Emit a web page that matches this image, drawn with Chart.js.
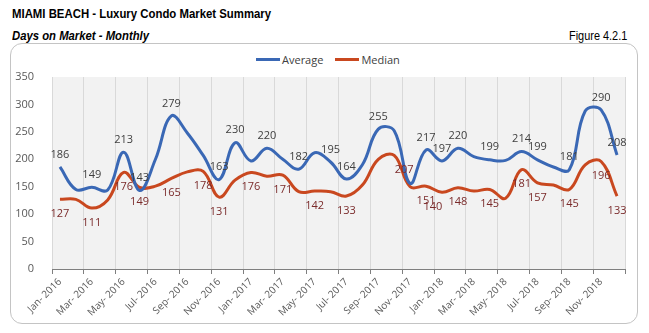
<!DOCTYPE html>
<html>
<head>
<meta charset="utf-8">
<script src="https://cdn.jsdelivr.net/npm/chart.js@4"></script>
<style>
  body { margin: 0; background: #fff; width: 649px; height: 333px; position: relative; overflow: hidden; }
  .head { font-family: "Liberation Sans", Arial, sans-serif; color: #000; position: absolute; white-space: nowrap; transform-origin: left top; }
  #title { left: 12px; top: 6px; font-size: 13px; font-weight: bold; transform: scaleX(0.875); }
  #subtitle { left: 12px; top: 28px; font-size: 13px; font-weight: bold; font-style: italic; transform: scaleX(0.87); }
  #figure { left: 569px; top: 28px; font-size: 13px; transform: scaleX(0.84); }
  #box { position: absolute; left: 10px; top: 43px; width: 626px; height: 279px; border: 1px solid #c4c4c4; border-radius: 12px; }
  #legend { position: absolute; top: 52px; left: 256px; font-family: "Open Sans", sans-serif; font-size: 11px; color: #404040; display: flex; align-items: center; }
  #legend .sw { display: inline-block; width: 24px; height: 3px; margin-right: 2px; }
  #legend .item { display: flex; align-items: center; margin-right: 12px; }
  canvas { position: absolute; left: 0; top: 0; }
</style>
</head>
<body>
<div id="title" class="head">MIAMI BEACH - Luxury Condo Market Summary</div>
<div id="subtitle" class="head">Days on Market - Monthly</div>
<div id="figure" class="head">Figure 4.2.1</div>
<div id="box"></div>
<div id="legend">
  <span class="item"><span class="sw" style="background:#3a68b5"></span>Average</span>
  <span class="item"><span class="sw" style="background:#c9481f"></span>Median</span>
</div>
<canvas id="chart" width="649" height="333"></canvas>
<script>
const months = [
  "Jan- 2016", "Feb- 2016", "Mar- 2016", "Apr- 2016", "May- 2016", "Jun- 2016",
  "Jul- 2016", "Aug- 2016", "Sep- 2016", "Oct- 2016", "Nov- 2016", "Dec- 2016",
  "Jan- 2017", "Feb- 2017", "Mar- 2017", "Apr- 2017", "May- 2017", "Jun- 2017",
  "Jul- 2017", "Aug- 2017", "Sep- 2017", "Oct- 2017", "Nov- 2017", "Dec- 2017",
  "Jan- 2018", "Feb- 2018", "Mar- 2018", "Apr- 2018", "May- 2018", "Jun- 2018",
  "Jul- 2018", "Aug- 2018", "Sep- 2018", "Oct- 2018", "Nov- 2018", "Dec- 2018"
];

const average = [186, 145, 149, 144, 213, 143, 200, 279, 248, 207, 163, 230,
                 197, 220, 200, 182, 212, 195, 164, 190, 255, 252, 156, 217,
                 197, 220, 205, 199, 198, 214, 199, 186, 181, 288, 290, 208];

const median = [127, 127, 111, 126, 176, 149, 151, 165, 177, 178, 131, 162,
                176, 169, 171, 141, 142, 141, 133, 153, 200, 207, 150, 151,
                140, 148, 142, 145, 129, 181, 157, 153, 145, 190, 196, 133];

// which points carry a value label
const averageLabelled = [0, 2, 4, 5, 7, 10, 11, 13, 15, 17, 18, 20, 23, 24, 25, 27, 29, 30, 32, 34, 35];
const medianLabelled = [0, 2, 4, 5, 7, 9, 10, 12, 14, 16, 18, 21, 23, 24, 25, 27, 29, 30, 32, 34, 35];

const yTicks = [0, 50, 100, 150, 200, 250, 300, 350];

// small sideways nudges for a few crowded labels
const medianNudge = { 21: 10, 24: -9 };

const plotBg = {
  id: "plotBg",
  beforeDraw(chart) {
    const { ctx, chartArea: a } = chart;
    ctx.save();
    ctx.fillStyle = "#f2f2f2";
    ctx.fillRect(a.left, a.top, a.right - a.left, a.bottom - a.top);
    ctx.restore();
  }
};

const valueLabels = {
  id: "valueLabels",
  afterDatasetsDraw(chart) {
    const ctx = chart.ctx;
    ctx.save();
    ctx.font = "11px 'Open Sans', sans-serif";
    ctx.textAlign = "center";
    const avgMeta = chart.getDatasetMeta(0);
    ctx.fillStyle = "#404040";
    ctx.textBaseline = "bottom";
    averageLabelled.forEach(i => {
      const p = avgMeta.data[i];
      ctx.fillText(average[i], p.x, p.y - 7);
    });
    const medMeta = chart.getDatasetMeta(1);
    ctx.fillStyle = "#7a2a2a";
    ctx.textBaseline = "top";
    medianLabelled.forEach(i => {
      const p = medMeta.data[i];
      ctx.fillText(median[i], p.x + (medianNudge[i] || 0), p.y + 9);
    });
    ctx.restore();
  }
};

const isBoundary = c => c.index === undefined || c.index % 2 === 0;

new Chart(document.getElementById("chart"), {
  type: "line",
  data: {
    labels: months,
    datasets: [
      { label: "Average", data: average, borderColor: "#3a68b5", borderWidth: 3, pointRadius: 0, tension: 0.4, fill: false },
      { label: "Median", data: median, borderColor: "#c9481f", borderWidth: 3, pointRadius: 0, tension: 0.4, fill: false }
    ]
  },
  options: {
    responsive: false,
    animation: false,
    layout: { padding: { left: 10, right: 24, top: 77, bottom: 14 } },
    plugins: { legend: { display: false }, tooltip: { enabled: false } },
    scales: {
      x: {
        offset: true,
        grid: {
          offset: true,
          color: c => isBoundary(c) ? "#d9d9d9" : "rgba(0,0,0,0)",
          tickColor: c => isBoundary(c) ? "#7f7f7f" : "rgba(0,0,0,0)",
          tickLength: 5
        },
        border: { color: "#7f7f7f", width: 1 },
        ticks: {
          autoSkip: false,
          maxRotation: 45,
          minRotation: 45,
          padding: 2,
          color: "#595959",
          font: { family: "'Open Sans', sans-serif", size: 10 },
          callback: (v, i) => i % 2 === 0 ? months[i] : ""
        },
        afterFit: s => { s.height = 50; }
      },
      y: {
        min: 0,
        max: 350,
        grid: { display: false },
        border: { display: false },
        afterBuildTicks: s => { s.ticks = yTicks.map(v => ({ value: v })); },
        ticks: {
          padding: 10,
          color: "#595959",
          font: { family: "'Open Sans', sans-serif", size: 11 }
        },
        afterFit: s => { s.width = 42; }
      }
    }
  },
  plugins: [plotBg, valueLabels]
});
</script>
</body>
</html>
